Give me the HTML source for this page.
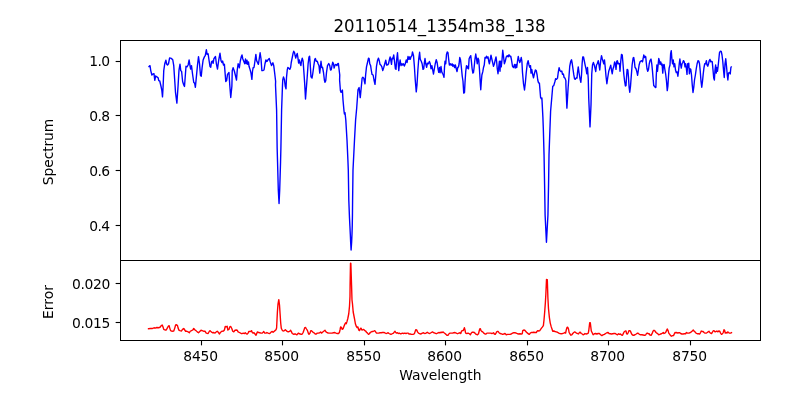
<!DOCTYPE html>
<html><head><meta charset="utf-8"><title>20110514_1354m38_138</title>
<style>html,body{margin:0;padding:0;background:#fff}body{width:800px;height:400px;overflow:hidden}</style></head>
<body>
<svg width="800" height="400" viewBox="0 0 800 400" style="display:block;will-change:transform;font-family:'DejaVu Sans', 'Liberation Sans', sans-serif">
<rect width="800" height="400" fill="#fff"/>
<path d="M149.00 66.50 L150.00 65.62 L150.75 70.62 L151.88 75.00 L153.00 74.00 L154.00 73.75 L154.75 80.25 L155.62 76.00 L156.88 76.88 L158.12 77.75 L158.75 80.62 L159.75 81.00 L161.00 86.25 L161.88 90.62 L162.50 96.88 L163.12 86.25 L163.75 70.62 L164.75 63.75 L165.88 60.25 L166.62 64.00 L167.50 65.00 L168.50 63.75 L169.62 57.88 L171.25 58.38 L172.75 59.75 L173.75 65.62 L174.62 78.75 L175.50 92.50 L176.88 103.12 L178.12 85.00 L179.00 70.00 L180.00 64.12 L180.75 70.62 L181.62 71.50 L182.62 81.50 L183.75 85.00 L184.50 86.50 L185.25 76.25 L186.00 66.25 L187.00 66.88 L188.12 65.00 L189.12 60.00 L190.00 65.62 L190.62 69.00 L191.50 65.62 L192.50 73.75 L193.75 82.50 L194.62 83.12 L195.38 87.25 L196.25 78.12 L197.50 65.00 L198.50 56.62 L199.50 63.75 L200.50 75.38 L201.25 76.25 L202.12 67.50 L203.12 60.00 L204.38 56.88 L205.25 55.62 L206.38 49.75 L207.12 54.38 L208.12 53.75 L209.00 60.00 L210.00 66.50 L210.75 67.25 L211.50 61.88 L212.50 61.00 L213.12 63.38 L213.88 58.75 L215.50 56.50 L216.38 63.75 L217.50 69.00 L218.75 60.00 L220.00 53.25 L221.00 60.62 L221.88 62.50 L222.62 61.00 L223.50 65.00 L224.38 64.12 L225.25 75.00 L225.75 81.50 L226.62 80.62 L227.50 74.38 L229.00 72.50 L229.75 85.00 L230.75 97.50 L231.88 86.25 L232.25 70.62 L233.12 67.75 L234.38 71.25 L235.62 76.25 L236.50 80.00 L237.25 70.00 L238.12 63.75 L238.75 65.00 L239.38 67.75 L240.25 61.25 L241.25 56.88 L242.00 55.00 L242.75 58.75 L243.75 61.25 L244.75 63.75 L245.50 59.00 L246.25 63.75 L247.00 60.25 L247.75 64.38 L248.50 61.88 L249.00 66.25 L250.00 69.38 L251.00 73.12 L251.88 79.38 L252.50 71.25 L253.12 67.75 L254.00 67.50 L254.75 62.50 L255.88 54.38 L256.62 60.62 L257.50 62.50 L258.38 64.38 L259.25 58.75 L260.12 52.75 L261.00 58.75 L261.88 70.62 L262.75 70.62 L264.00 70.00 L265.00 63.75 L265.88 60.00 L266.88 61.50 L267.88 60.00 L269.25 58.50 L270.25 61.88 L271.50 65.62 L272.25 63.75 L272.88 62.75 L273.75 65.62 L274.75 73.75 L275.62 81.25 L275.50 85.00 L276.60 110.00 L277.15 148.00 L277.55 162.00 L278.30 190.00 L279.05 203.50 L279.70 190.00 L280.55 162.00 L280.90 148.00 L281.60 110.00 L282.50 85.00 L282.75 80.00 L283.50 76.88 L284.38 79.38 L285.25 86.25 L286.00 88.75 L286.50 77.50 L287.25 70.00 L287.88 67.50 L288.75 68.12 L289.75 69.38 L290.62 67.50 L291.25 62.50 L292.12 58.12 L293.12 53.12 L293.75 51.25 L294.50 52.50 L295.12 55.62 L295.75 58.12 L296.38 55.62 L297.25 53.50 L297.88 57.50 L298.62 63.12 L299.38 60.00 L300.25 63.75 L300.88 65.62 L301.50 61.25 L302.25 58.12 L303.12 61.25 L303.75 70.00 L304.62 82.50 L305.50 99.00 L306.50 86.25 L307.25 76.25 L308.12 63.75 L309.00 56.88 L309.62 56.25 L310.25 65.00 L311.00 76.88 L312.00 78.12 L312.75 73.75 L313.75 66.25 L314.75 59.38 L315.38 58.50 L316.25 61.25 L317.25 61.25 L318.12 63.75 L319.00 65.62 L319.75 73.12 L320.38 67.50 L321.00 61.25 L321.62 66.25 L321.75 67.50 L322.50 67.25 L323.50 72.50 L324.38 80.00 L325.00 82.25 L325.75 80.62 L326.50 72.50 L327.50 65.62 L328.75 63.50 L329.75 65.62 L330.50 70.00 L331.25 69.75 L332.00 65.62 L332.75 62.25 L333.50 63.75 L334.12 68.12 L335.00 65.00 L336.00 64.38 L336.88 65.62 L337.75 63.75 L338.38 63.50 L339.00 68.75 L339.75 75.00 L339.60 80.00 L340.40 90.50 L341.10 92.40 L342.40 90.10 L343.00 100.00 L344.00 111.00 L344.40 114.00 L345.00 112.60 L345.80 120.00 L347.00 140.00 L347.90 160.00 L348.30 170.00 L348.80 200.00 L349.50 218.00 L349.90 226.00 L350.30 234.00 L350.65 242.00 L351.10 250.00 L351.65 242.00 L352.00 234.00 L352.25 226.00 L352.45 215.00 L352.60 200.00 L353.00 170.00 L353.50 160.00 L354.50 140.00 L355.60 120.00 L356.70 108.00 L358.00 89.75 L359.10 87.50 L360.25 97.60 L361.75 82.25 L362.12 78.12 L362.88 77.25 L363.75 78.12 L364.38 81.25 L365.00 83.75 L365.62 75.00 L366.50 66.88 L367.50 62.50 L368.50 58.12 L369.12 58.50 L369.75 63.75 L370.62 65.62 L371.25 70.00 L372.00 74.38 L373.12 75.00 L374.00 80.00 L375.00 84.38 L375.62 77.50 L376.50 66.25 L377.50 60.62 L378.50 58.12 L379.25 60.62 L380.00 64.38 L381.00 65.25 L381.88 66.88 L382.75 70.62 L383.75 67.50 L384.75 63.75 L385.75 60.25 L386.62 65.00 L387.75 64.75 L388.50 63.75 L389.38 59.75 L390.12 56.88 L390.88 60.62 L391.50 64.38 L392.12 58.12 L392.88 58.75 L393.75 55.00 L394.50 61.25 L395.38 68.75 L396.00 69.38 L396.62 60.00 L397.50 52.75 L398.12 61.25 L398.75 70.62 L399.50 63.75 L400.12 60.00 L401.00 65.62 L401.88 63.75 L402.75 65.00 L403.50 63.75 L404.38 66.00 L405.25 63.75 L406.25 60.00 L407.12 62.50 L408.00 56.50 L408.88 59.38 L409.62 56.88 L410.25 59.38 L411.00 56.88 L411.88 55.62 L412.50 51.88 L413.50 55.62 L414.38 66.25 L415.25 80.00 L416.25 91.88 L417.00 85.00 L417.88 70.00 L418.75 58.75 L419.62 52.25 L420.25 59.38 L421.25 61.25 L422.12 63.75 L423.00 69.38 L423.75 68.75 L424.38 62.50 L425.00 58.50 L425.75 63.75 L426.62 67.25 L427.50 63.12 L428.38 63.75 L429.38 61.50 L430.25 63.75 L431.00 68.75 L431.88 65.62 L432.75 70.00 L433.50 74.00 L434.38 68.75 L435.25 63.75 L436.25 59.75 L437.12 62.50 L438.00 68.75 L438.75 72.25 L439.50 67.50 L440.12 72.75 L441.00 66.50 L441.75 71.88 L442.50 73.50 L443.25 74.75 L444.00 77.25 L444.50 67.50 L445.00 61.25 L445.75 63.75 L446.50 54.38 L447.25 51.88 L448.00 52.75 L448.62 58.75 L449.38 65.00 L450.25 63.75 L451.25 65.25 L452.12 63.75 L452.88 66.25 L453.75 64.75 L454.62 67.50 L455.38 65.00 L456.25 68.75 L457.00 71.50 L457.75 67.50 L458.50 66.88 L459.12 63.75 L459.75 57.50 L460.50 59.75 L461.25 66.25 L462.25 76.25 L463.00 81.25 L463.75 93.12 L464.50 92.50 L465.00 82.50 L465.75 71.25 L466.50 65.62 L467.25 68.12 L467.88 66.25 L468.50 68.75 L469.12 58.75 L470.00 56.88 L470.75 55.62 L471.38 61.25 L472.12 68.75 L472.88 73.12 L473.50 72.50 L474.12 67.50 L475.00 58.75 L475.75 54.00 L476.50 58.75 L477.25 63.75 L478.00 58.12 L478.75 60.00 L479.50 70.00 L480.25 82.50 L480.75 89.75 L481.25 82.50 L481.88 75.00 L482.75 71.88 L483.50 67.50 L484.25 65.00 L485.00 57.50 L485.75 58.12 L486.50 56.25 L487.25 58.12 L488.00 56.88 L488.75 61.25 L489.38 63.75 L490.12 60.00 L491.00 55.25 L491.75 58.75 L492.50 61.88 L493.50 66.25 L494.38 63.75 L495.25 60.00 L496.00 56.88 L496.62 61.25 L497.25 68.75 L498.00 73.75 L498.75 66.88 L499.38 61.25 L500.00 71.25 L500.62 61.25 L501.25 66.88 L502.00 60.00 L502.75 50.25 L503.50 56.25 L504.38 63.75 L505.25 61.25 L506.25 56.88 L507.25 55.62 L508.12 56.88 L509.00 54.75 L510.00 56.50 L510.75 56.25 L511.50 60.00 L512.50 66.25 L513.50 67.50 L514.50 64.38 L515.25 68.12 L516.00 64.38 L516.75 67.50 L517.50 61.25 L518.25 56.50 L519.00 60.00 L519.75 62.50 L520.50 60.62 L521.25 57.50 L521.88 61.25 L522.50 72.50 L523.50 83.75 L524.50 90.00 L525.38 82.50 L526.25 72.50 L527.25 63.75 L528.12 60.62 L529.00 65.00 L529.75 67.25 L530.50 65.62 L531.00 73.12 L531.75 69.38 L532.50 73.75 L533.50 77.75 L534.38 73.75 L535.38 70.00 L536.25 70.62 L537.12 75.00 L537.75 80.00 L538.50 82.75 L539.40 83.10 L540.60 97.50 L541.25 98.75 L541.90 98.10 L542.90 117.50 L543.30 128.00 L544.05 155.00 L544.60 185.00 L545.10 215.00 L546.45 242.20 L547.95 215.00 L548.55 185.00 L549.00 155.00 L549.90 130.00 L550.60 111.25 L551.90 96.25 L552.75 86.25 L553.75 85.60 L555.00 81.25 L555.62 78.75 L556.50 79.38 L557.50 78.12 L558.25 72.50 L559.12 67.75 L560.00 70.62 L560.88 71.50 L561.75 71.00 L562.50 74.38 L563.38 74.00 L564.12 77.50 L565.00 78.12 L565.88 80.62 L565.90 85.00 L566.90 108.10 L568.10 88.00 L569.75 66.25 L570.75 61.25 L571.50 59.75 L572.25 63.75 L573.12 70.00 L573.75 74.38 L574.50 78.75 L575.25 79.38 L576.25 77.75 L577.00 78.12 L577.50 72.50 L578.25 66.88 L579.00 72.50 L580.00 78.75 L580.88 82.25 L581.50 75.00 L582.12 63.75 L582.75 56.88 L583.50 56.88 L584.38 61.25 L585.25 65.62 L586.00 68.75 L586.75 73.75 L587.50 67.50 L588.25 78.75 L588.75 98.75 L590.00 126.90 L591.00 105.00 L591.75 73.75 L592.50 65.00 L593.38 62.50 L594.25 65.00 L595.00 68.12 L595.75 71.50 L596.50 65.00 L597.25 63.75 L598.25 60.62 L599.00 65.00 L599.75 70.00 L600.62 61.25 L601.50 55.62 L602.25 58.75 L603.00 61.25 L603.75 63.75 L604.50 60.00 L605.25 67.50 L606.00 76.25 L606.88 83.75 L607.75 77.50 L608.75 71.25 L609.75 68.12 L610.75 65.25 L611.50 70.00 L612.25 73.75 L613.00 68.75 L613.75 66.88 L614.62 61.88 L615.38 63.75 L616.00 69.38 L616.75 61.25 L617.38 60.62 L618.00 63.75 L618.75 63.50 L619.50 63.75 L620.00 71.25 L620.75 61.25 L621.50 54.38 L622.25 55.00 L623.00 63.75 L623.75 73.75 L624.62 81.25 L625.38 86.00 L626.00 85.62 L626.50 77.50 L627.12 69.38 L627.88 70.00 L628.50 77.50 L629.12 87.50 L629.75 92.25 L630.50 86.25 L631.25 76.25 L632.12 65.00 L633.12 58.12 L633.75 57.50 L634.38 61.25 L635.00 67.25 L636.00 68.75 L636.88 71.88 L637.62 75.25 L638.38 70.00 L639.12 65.00 L640.00 61.88 L641.00 61.00 L641.88 60.62 L642.50 61.88 L643.12 58.75 L643.75 55.00 L644.50 57.50 L645.00 56.25 L645.75 56.88 L646.25 62.50 L647.00 68.75 L647.75 71.25 L648.50 69.38 L649.25 63.75 L650.00 60.62 L651.00 59.00 L651.75 63.75 L652.50 71.25 L653.12 78.75 L653.75 85.62 L654.50 86.25 L655.25 87.50 L655.88 87.25 L656.25 76.25 L656.88 65.00 L657.50 71.25 L658.12 65.00 L658.75 58.50 L659.50 61.25 L660.00 64.38 L660.75 61.88 L661.50 65.00 L662.12 64.00 L662.75 73.12 L663.50 65.00 L664.12 64.38 L664.75 68.75 L665.62 73.75 L666.50 81.25 L667.25 90.62 L667.88 86.25 L668.50 76.25 L669.12 68.12 L670.00 65.00 L670.62 53.75 L671.25 50.62 L671.88 58.75 L672.50 63.75 L673.25 60.00 L674.00 66.88 L674.75 63.75 L675.50 70.00 L676.25 72.50 L677.12 71.88 L677.88 76.25 L678.50 71.25 L679.25 63.75 L679.88 59.00 L680.50 63.75 L681.25 68.12 L682.00 63.75 L682.75 62.50 L683.50 60.62 L684.25 61.88 L685.00 66.88 L685.62 63.75 L686.25 67.50 L687.00 74.38 L687.62 63.75 L688.25 67.50 L688.75 63.12 L689.38 73.75 L690.00 68.75 L690.75 69.38 L691.50 75.00 L692.25 85.00 L693.00 92.50 L693.75 87.50 L694.50 80.00 L695.38 75.00 L696.25 68.75 L697.12 63.75 L698.00 60.62 L698.75 61.00 L699.50 63.75 L700.25 71.25 L701.00 81.25 L701.75 87.25 L702.50 81.25 L703.25 73.75 L704.00 67.50 L704.75 63.75 L705.62 63.75 L706.38 60.62 L707.00 65.00 L707.75 66.25 L708.50 63.75 L709.25 60.62 L710.00 59.38 L710.75 61.88 L711.50 61.25 L712.25 61.88 L713.00 70.00 L713.75 78.12 L714.38 80.00 L715.00 70.00 L715.62 65.00 L716.25 73.12 L716.88 67.50 L717.50 71.25 L718.12 66.25 L718.75 60.00 L719.50 52.50 L720.25 51.25 L721.25 51.50 L722.00 55.00 L722.75 61.25 L723.50 70.00 L724.25 77.50 L725.00 63.75 L725.75 58.75 L726.50 66.25 L727.25 75.00 L727.88 80.00 L728.50 73.12 L729.38 72.50 L730.25 74.00 L730.88 67.50 L731.25 66.88" fill="none" stroke="#0000ff" stroke-width="1.39" stroke-linejoin="round" stroke-linecap="square"/>
<path d="M148.50 328.75 L150.62 328.50 L152.50 328.50 L154.00 327.75 L155.25 328.12 L156.88 327.50 L158.50 327.75 L160.00 327.25 L161.25 325.62 L162.25 325.00 L163.12 327.25 L163.75 329.38 L165.00 330.00 L166.25 330.00 L167.25 328.12 L168.25 326.25 L169.12 325.62 L169.75 328.12 L170.62 330.62 L171.88 331.25 L173.75 331.00 L174.75 328.12 L175.62 325.00 L176.50 324.75 L177.50 325.62 L178.12 328.12 L179.00 330.25 L180.00 330.62 L181.50 331.00 L182.50 329.38 L183.75 328.50 L184.75 330.00 L185.62 331.25 L186.88 331.25 L188.12 331.88 L189.38 332.75 L190.25 331.25 L191.50 330.62 L192.75 330.00 L193.75 328.50 L194.75 329.75 L196.00 330.62 L197.25 331.88 L198.50 332.75 L199.75 331.50 L201.00 330.25 L202.25 330.62 L203.50 331.25 L205.00 331.25 L206.25 333.12 L208.12 333.50 L209.38 331.25 L210.00 330.62 L211.25 331.88 L212.50 332.75 L213.75 332.50 L215.00 333.12 L216.25 331.88 L217.25 331.25 L218.50 332.50 L219.50 334.00 L220.62 332.25 L221.88 331.25 L223.50 331.00 L224.38 330.00 L225.25 326.50 L226.25 326.88 L227.12 326.25 L227.88 330.00 L229.00 329.38 L229.75 326.88 L230.75 326.50 L231.88 328.75 L232.75 331.25 L233.75 331.88 L235.00 330.25 L236.25 330.00 L237.25 330.25 L238.12 331.88 L239.38 332.50 L240.62 333.12 L241.88 333.75 L243.12 333.12 L244.38 333.50 L245.25 332.75 L246.25 333.75 L247.25 334.00 L248.12 333.12 L248.75 331.50 L250.00 331.50 L251.00 331.25 L251.50 330.62 L252.25 332.50 L253.12 333.12 L254.00 332.75 L255.00 334.00 L256.00 335.25 L256.88 333.12 L257.50 331.88 L258.50 332.50 L259.75 332.75 L261.00 333.12 L262.25 333.12 L263.12 332.25 L263.75 331.50 L264.75 333.12 L266.00 333.12 L266.88 332.50 L268.12 333.12 L269.38 333.50 L270.25 333.12 L271.25 331.88 L272.25 331.50 L273.12 332.25 L274.00 331.50 L275.00 330.62 L276.00 329.75 L276.60 328.00 L277.00 320.00 L277.40 312.00 L278.00 304.00 L278.80 299.60 L279.50 305.00 L280.10 314.00 L280.70 323.00 L281.30 328.30 L282.25 330.25 L283.12 331.00 L284.38 330.62 L285.38 329.75 L286.25 330.62 L287.25 331.50 L288.50 331.88 L289.75 331.25 L290.62 330.25 L291.50 331.88 L292.25 333.50 L293.12 334.00 L294.00 334.38 L295.00 333.75 L296.00 334.38 L296.88 334.75 L297.75 333.75 L298.50 333.12 L299.38 333.75 L300.25 334.00 L301.25 334.38 L302.25 334.00 L303.12 332.50 L304.00 330.00 L304.75 327.75 L305.62 327.50 L306.50 329.00 L307.50 330.62 L308.25 333.12 L309.00 334.38 L310.00 333.12 L310.75 330.62 L311.50 330.62 L312.50 331.88 L313.50 332.50 L314.38 333.12 L315.25 334.00 L316.25 334.00 L317.25 333.12 L318.50 333.12 L319.75 332.75 L320.62 331.88 L321.50 333.12 L322.50 332.25 L323.75 331.25 L325.00 330.25 L326.00 331.88 L327.25 332.75 L328.75 333.12 L330.25 333.12 L331.88 333.12 L333.50 332.75 L334.75 332.50 L336.00 333.12 L337.25 333.50 L338.50 333.50 L339.38 332.50 L340.00 330.00 L340.62 326.88 L341.50 327.50 L342.25 329.38 L343.12 328.75 L344.00 326.25 L344.75 324.38 L345.62 322.75 L346.25 323.75 L346.88 321.88 L347.75 318.75 L348.75 313.75 L349.50 306.25 L350.00 296.25 L350.10 285.00 L350.50 263.20 L350.85 263.40 L351.55 285.00 L352.00 300.00 L352.50 304.00 L353.20 312.00 L354.50 318.75 L355.38 323.75 L356.25 326.25 L357.12 327.50 L357.88 326.88 L358.75 330.00 L359.50 330.62 L360.25 328.75 L361.00 328.12 L361.88 330.00 L362.75 329.75 L363.75 329.38 L364.75 330.62 L365.62 331.00 L366.50 332.25 L367.50 333.12 L368.50 334.38 L369.38 333.75 L370.25 332.50 L371.25 331.88 L372.25 331.50 L373.12 331.50 L374.00 331.00 L374.75 330.62 L375.62 331.88 L376.50 333.12 L377.50 333.12 L378.75 333.12 L380.00 332.75 L381.25 332.75 L382.50 332.50 L383.75 332.50 L384.75 332.75 L386.00 333.50 L387.25 333.12 L388.12 332.75 L389.00 333.50 L390.00 334.00 L391.00 334.38 L392.25 333.75 L393.50 333.12 L394.38 331.88 L395.00 331.25 L395.75 332.50 L396.50 333.12 L397.50 332.75 L398.50 333.50 L399.38 333.12 L400.25 333.75 L401.25 333.75 L402.25 333.12 L403.50 333.50 L404.75 333.12 L406.00 333.50 L407.25 333.12 L408.25 333.12 L409.00 334.00 L410.25 334.00 L411.50 334.38 L413.12 334.38 L414.38 333.75 L415.00 331.88 L415.75 329.75 L416.75 330.00 L417.50 331.88 L418.50 333.12 L419.75 333.75 L421.00 334.00 L422.25 333.12 L423.50 332.75 L424.75 333.50 L426.00 333.12 L427.25 332.25 L428.50 333.12 L429.75 333.50 L431.00 332.75 L432.50 331.88 L433.75 332.75 L435.00 333.12 L436.25 333.75 L437.50 333.12 L438.75 332.50 L440.00 332.75 L441.25 332.25 L442.25 332.50 L443.12 331.88 L444.00 332.75 L445.00 333.50 L446.00 334.38 L446.88 335.25 L448.12 335.25 L449.00 333.75 L450.00 333.12 L451.25 333.12 L452.50 333.12 L453.75 332.75 L455.00 332.50 L456.25 333.12 L457.50 333.75 L458.75 333.12 L460.00 332.75 L460.75 333.50 L461.50 331.25 L462.25 330.62 L463.12 330.62 L463.75 329.38 L464.38 327.75 L465.00 330.00 L465.62 333.12 L466.88 333.50 L468.12 333.12 L469.38 333.75 L470.38 334.75 L471.25 333.12 L472.12 332.25 L473.12 332.25 L474.38 332.50 L475.25 333.50 L476.25 334.38 L477.50 334.75 L478.50 333.75 L479.12 331.25 L479.75 329.00 L480.38 328.75 L481.00 330.62 L481.88 331.50 L482.75 331.88 L483.75 333.12 L485.00 334.00 L486.00 334.00 L486.88 333.12 L488.12 333.12 L489.38 333.12 L490.62 333.12 L491.88 333.50 L492.75 333.12 L493.50 332.75 L494.38 334.00 L495.25 334.38 L496.00 333.12 L496.62 331.88 L497.50 331.50 L498.25 331.50 L499.00 332.75 L500.00 333.50 L501.25 333.75 L502.50 334.38 L503.75 334.00 L505.00 333.50 L506.25 334.75 L507.50 334.38 L508.75 334.38 L510.00 334.38 L511.25 334.00 L512.50 333.12 L513.75 332.75 L515.00 332.75 L516.25 333.12 L517.50 333.75 L518.75 334.00 L520.00 333.75 L521.25 334.00 L522.25 333.75 L522.75 330.62 L523.75 330.00 L524.75 330.25 L525.62 331.25 L526.50 332.25 L527.50 333.12 L528.50 334.00 L529.38 334.38 L530.25 333.12 L531.25 332.50 L532.50 332.50 L533.75 332.25 L535.00 332.50 L536.25 332.50 L537.12 331.25 L537.88 330.62 L538.75 331.00 L539.75 330.62 L540.62 329.38 L541.50 328.12 L542.50 326.88 L543.38 325.62 L544.00 320.00 L544.75 311.25 L545.38 302.50 L545.88 293.75 L546.50 279.50 L547.30 279.60 L547.88 297.50 L548.50 308.75 L549.38 317.50 L550.25 323.12 L551.25 326.88 L552.00 329.00 L552.75 331.25 L553.75 331.00 L555.00 331.50 L556.25 331.88 L557.50 332.25 L558.75 333.12 L560.00 333.50 L561.25 333.75 L562.50 333.50 L563.75 333.12 L564.75 332.50 L565.62 333.12 L566.25 330.00 L567.00 327.50 L567.75 327.25 L568.50 329.00 L569.12 332.50 L570.00 334.00 L571.00 335.25 L571.88 334.75 L572.75 333.50 L573.75 332.50 L574.75 331.88 L575.62 332.50 L576.50 333.12 L577.50 333.50 L578.50 334.00 L579.38 332.50 L580.25 332.25 L581.25 333.50 L582.25 334.00 L583.12 334.75 L584.00 334.38 L585.00 333.50 L586.00 334.00 L587.25 333.75 L588.25 333.12 L588.70 331.00 L589.70 322.80 L590.30 322.80 L591.30 331.00 L592.20 332.80 L593.12 334.75 L594.38 333.75 L595.62 333.50 L596.88 334.00 L598.12 333.50 L599.38 333.50 L600.62 334.75 L601.88 335.62 L603.12 334.75 L604.38 334.38 L605.62 333.50 L606.88 332.75 L608.12 332.50 L609.00 333.50 L610.25 333.75 L611.50 334.00 L612.75 333.75 L614.00 333.50 L615.25 333.50 L616.50 334.38 L617.50 334.75 L618.50 333.75 L619.50 334.38 L620.50 334.00 L621.50 335.00 L622.50 335.25 L623.50 333.12 L624.38 331.50 L625.38 331.00 L626.00 331.00 L626.62 333.75 L627.50 334.00 L628.25 332.50 L629.00 330.62 L630.00 330.62 L630.75 331.88 L631.50 333.75 L632.50 335.00 L633.75 335.25 L635.00 334.75 L636.25 334.00 L637.50 333.12 L638.50 333.50 L639.38 334.38 L640.62 334.75 L641.88 334.75 L643.12 335.00 L644.38 335.25 L645.62 335.00 L646.50 333.50 L647.50 333.12 L648.25 333.75 L649.12 333.75 L650.00 335.00 L651.25 335.25 L652.25 333.12 L653.12 331.00 L654.00 330.25 L655.00 331.00 L656.00 332.50 L656.88 333.12 L657.75 333.75 L658.75 334.75 L659.75 334.38 L660.62 334.00 L661.50 333.75 L662.50 333.12 L663.25 332.50 L664.00 333.50 L664.75 333.12 L665.62 332.50 L666.50 330.62 L667.25 329.00 L668.12 330.62 L668.75 333.12 L669.75 334.38 L670.62 335.62 L671.50 336.25 L672.50 335.62 L673.50 335.62 L674.38 333.75 L675.00 332.50 L676.00 332.75 L676.88 332.50 L677.75 333.12 L678.75 332.75 L679.75 332.75 L680.62 333.50 L681.88 334.00 L683.12 334.00 L684.38 333.75 L685.62 333.75 L686.50 332.50 L687.50 333.12 L688.75 333.12 L690.00 332.75 L691.25 331.88 L692.25 331.00 L693.25 330.00 L694.00 331.00 L695.00 331.88 L696.00 333.12 L697.25 333.75 L698.50 333.75 L699.75 334.00 L700.62 332.50 L701.25 331.00 L702.25 331.50 L703.12 331.50 L704.00 332.50 L705.00 333.12 L706.25 333.12 L707.25 332.50 L708.12 331.88 L709.00 331.25 L709.75 332.50 L710.62 333.12 L711.50 333.50 L712.25 332.50 L713.12 331.00 L714.00 330.62 L715.00 331.88 L716.00 331.50 L716.88 331.00 L717.75 331.88 L718.75 331.00 L719.75 331.25 L720.62 333.12 L721.50 334.38 L722.50 333.75 L723.25 332.50 L724.00 329.75 L724.75 330.62 L725.25 333.12 L726.25 332.50 L727.00 333.12 L727.75 331.88 L728.50 332.50 L729.38 333.12 L730.62 333.12 L731.50 332.75" fill="none" stroke="#ff0000" stroke-width="1.39" stroke-linejoin="round" stroke-linecap="square"/>
<rect x="120.5" y="40.5" width="640.0" height="220.0" fill="none" stroke="#000" stroke-width="1.11" shape-rendering="crispEdges"/>
<rect x="120.5" y="260.5" width="640.0" height="80.0" fill="none" stroke="#000" stroke-width="1.11" shape-rendering="crispEdges"/>
<line x1="115.64" x2="120.5" y1="61.5" y2="61.5" stroke="#000" stroke-width="1.11"/>
<text x="109.44" y="65.85" font-size="13.89" text-anchor="end" letter-spacing="-0.6">1.0</text>
<line x1="115.64" x2="120.5" y1="115.5" y2="115.5" stroke="#000" stroke-width="1.11"/>
<text x="109.44" y="120.85" font-size="13.89" text-anchor="end" letter-spacing="-0.6">0.8</text>
<line x1="115.64" x2="120.5" y1="170.5" y2="170.5" stroke="#000" stroke-width="1.11"/>
<text x="109.44" y="175.85" font-size="13.89" text-anchor="end" letter-spacing="-0.6">0.6</text>
<line x1="115.64" x2="120.5" y1="225.5" y2="225.5" stroke="#000" stroke-width="1.11"/>
<text x="109.44" y="230.85" font-size="13.89" text-anchor="end" letter-spacing="-0.6">0.4</text>
<line x1="115.64" x2="120.5" y1="283.5" y2="283.5" stroke="#000" stroke-width="1.11"/>
<text x="109.94" y="288.8" font-size="13.89" text-anchor="end" letter-spacing="-0.35">0.020</text>
<line x1="115.64" x2="120.5" y1="322.5" y2="322.5" stroke="#000" stroke-width="1.11"/>
<text x="109.94" y="327.8" font-size="13.89" text-anchor="end" letter-spacing="-0.35">0.015</text>
<line x1="201.5" x2="201.5" y1="340.5" y2="345.36" stroke="#000" stroke-width="1.11"/>
<text x="200.6" y="360.96" font-size="13.89" text-anchor="middle" letter-spacing="-0.15">8450</text>
<line x1="282.5" x2="282.5" y1="340.5" y2="345.36" stroke="#000" stroke-width="1.11"/>
<text x="281.6" y="360.96" font-size="13.89" text-anchor="middle" letter-spacing="-0.15">8500</text>
<line x1="364.5" x2="364.5" y1="340.5" y2="345.36" stroke="#000" stroke-width="1.11"/>
<text x="363.6" y="360.96" font-size="13.89" text-anchor="middle" letter-spacing="-0.15">8550</text>
<line x1="445.5" x2="445.5" y1="340.5" y2="345.36" stroke="#000" stroke-width="1.11"/>
<text x="444.6" y="360.96" font-size="13.89" text-anchor="middle" letter-spacing="-0.15">8600</text>
<line x1="527.5" x2="527.5" y1="340.5" y2="345.36" stroke="#000" stroke-width="1.11"/>
<text x="526.6" y="360.96" font-size="13.89" text-anchor="middle" letter-spacing="-0.15">8650</text>
<line x1="608.5" x2="608.5" y1="340.5" y2="345.36" stroke="#000" stroke-width="1.11"/>
<text x="607.6" y="360.96" font-size="13.89" text-anchor="middle" letter-spacing="-0.15">8700</text>
<line x1="690.5" x2="690.5" y1="340.5" y2="345.36" stroke="#000" stroke-width="1.11"/>
<text x="689.6" y="360.96" font-size="13.89" text-anchor="middle" letter-spacing="-0.15">8750</text>
<text x="440.3" y="379.8" font-size="13.89" text-anchor="middle">Wavelength</text>
<text transform="translate(439.5,32) scale(0.996,1.08)" font-size="16.67" text-anchor="middle">20110514_1354m38_138</text>
<text transform="translate(53,152) rotate(-90)" font-size="13.89" text-anchor="middle" letter-spacing="-0.12">Spectrum</text>
<text transform="translate(53,302.0) rotate(-90)" font-size="13.89" text-anchor="middle">Error</text>
</svg>
</body></html>
